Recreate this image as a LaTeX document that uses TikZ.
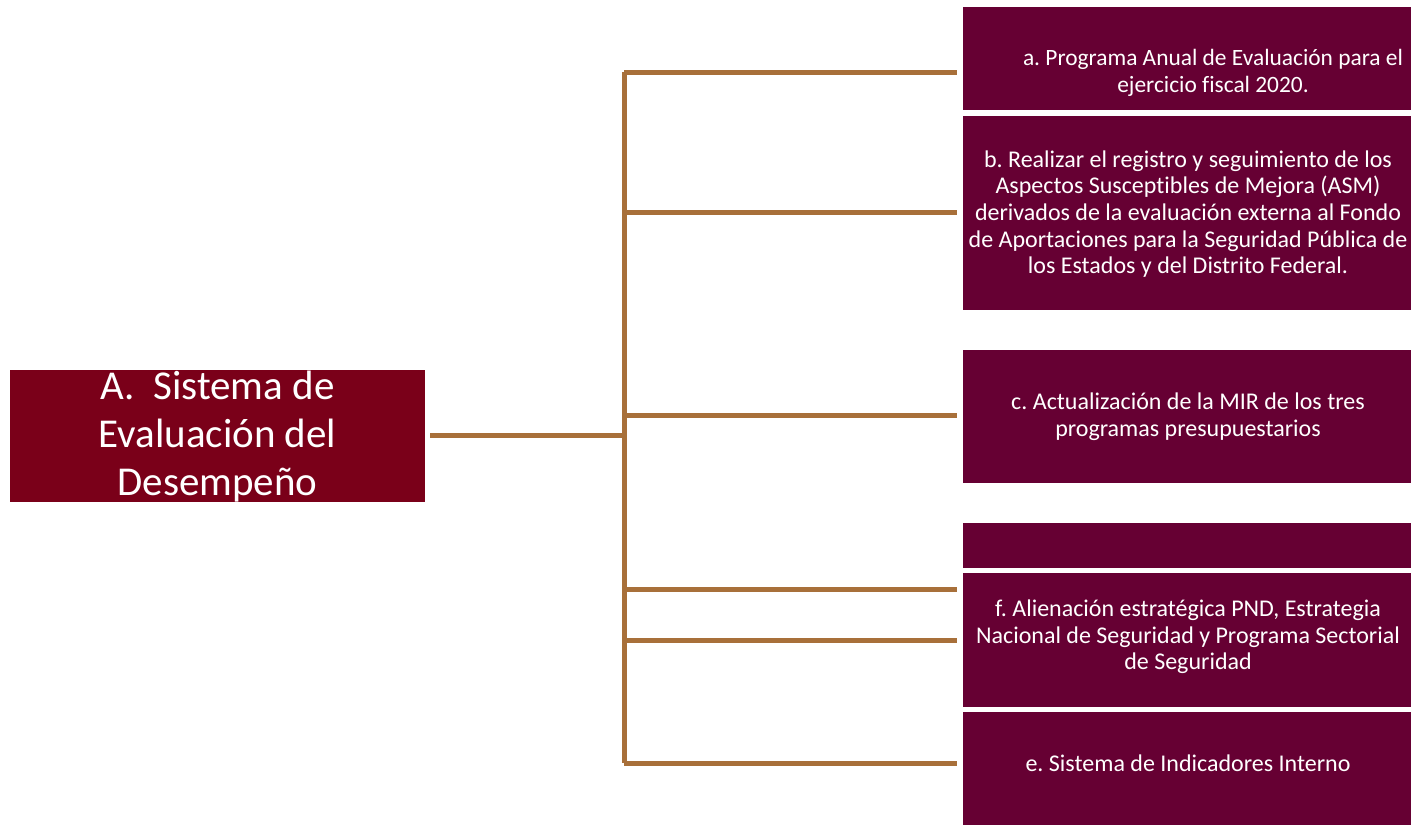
\documentclass[tikz,border=0pt]{standalone}
\usepackage{fontspec}
\setmainfont{Carlito}[Ligatures=CommonOff]
\frenchspacing
\definecolor{mainred}{RGB}{122,0,25}
\definecolor{boxred}{RGB}{102,0,51}
\definecolor{conncol}{RGB}{168,112,58}
\begin{document}
\begin{tikzpicture}[x=1pt,y=-1pt,
  mainbox/.style={fill=mainred,draw=none,inner sep=0pt,anchor=north west},
  itembox/.style={fill=boxred,draw=none,inner sep=0pt,anchor=north west},
  itemtext/.style={text=white,align=center,inner sep=0pt,font=\fontsize{24}{26.7}\selectfont},
  maintext/.style={text=white,align=center,inner sep=0pt,font=\fontsize{41}{48}\selectfont},
  conn/.style={draw=conncol,line width=5pt}]
\useasboundingbox (0,0) rectangle (1411,825);
% boxes
\node[mainbox,minimum width=415pt,minimum height=132pt] (main) at (10,370) {};
\node[itembox,minimum width=448pt,minimum height=103pt] (a) at (963,7) {};
\node[itembox,minimum width=448pt,minimum height=194pt] (b) at (963,116) {};
\node[itembox,minimum width=448pt,minimum height=133pt] (c) at (963,350) {};
\node[itembox,minimum width=448pt,minimum height=45pt] (d) at (963,523) {};
\node[itembox,minimum width=448pt,minimum height=134pt] (f) at (963,573) {};
\node[itembox,minimum width=448pt,minimum height=113pt] (e) at (963,712) {};
% texts
\node[maintext] (maint) at (217.5,437) {A.\ \ Sistema de\\Evaluación del\\Desempeño};
\node[itemtext,font=\fontsize{23.4}{26.7}\selectfont] (at) at (1213,73) {a. Programa Anual de Evaluación para el\\ejercicio fiscal 2020.};
\node[itemtext] (bt) at (1188,214) {b. Realizar el registro y seguimiento de los\\Aspectos Susceptibles de Mejora (ASM)\\derivados de la evaluación externa al Fondo\\de Aportaciones para la Seguridad Pública de\\los Estados y del Distrito Federal.};
\node[itemtext] (ct) at (1188,417) {c. Actualización de la MIR de los tres\\programas presupuestarios};
\node[itemtext] (ft) at (1188,637) {f. Alienación estratégica PND, Estrategia\\Nacional de Seguridad y Programa Sectorial\\de Seguridad};
\node[itemtext] (et) at (1188,763) {e. Sistema de Indicadores Interno};
% connectors
\coordinate (hub) at (624,435);
\coordinate (ta) at (624,72);
\coordinate (tb) at (624,212);
\coordinate (tc) at (624,415);
\coordinate (td) at (624,589);
\coordinate (tf) at (624,640);
\coordinate (te) at (624,763);
\draw[conn,shorten <=5pt] (main.east |- hub) -- (hub);
\draw[conn] (ta) -- (te);
\foreach \t/\b in {ta/a,tb/b,tc/c,td/d,tf/f,te/e}
  \draw[conn,shorten >=6pt] (\t) -- (\t -| \b.west);
\end{tikzpicture}
\end{document}
